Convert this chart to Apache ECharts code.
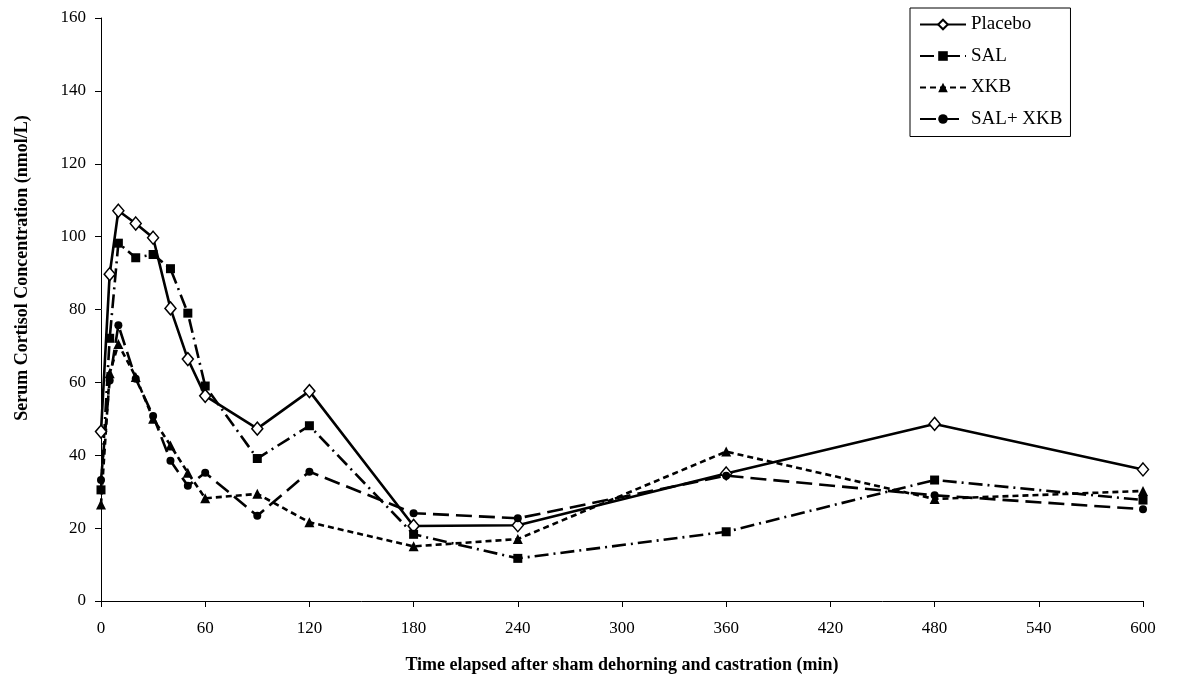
<!DOCTYPE html>
<html>
<head>
<meta charset="utf-8">
<script src="https://cdn.jsdelivr.net/npm/echarts@6/dist/echarts.min.js"></script>
<style>
html,body{margin:0;padding:0;background:#fff;}
#chart{width:1180px;height:688px;}
</style>
</head>
<body>
<div id="chart"></div>
<script>
// Time points (min)
const times = [0, 5, 10, 20, 30, 40, 50, 60, 90, 120, 180, 240, 360, 480, 600];
// Series values (nmol/L)
const placebo = [46.5, 89.7, 107.1, 103.6, 99.7, 80.3, 66.4, 56.3, 47.3, 57.6, 20.6, 20.8, 35.0, 48.6, 36.1];
const sal     = [30.5, 72.1, 98.2, 94.2, 95.1, 91.2, 79.0, 59.0, 39.1, 48.1, 18.3, 11.7, 19.0, 33.2, 27.7];
const xkb     = [26.5, 62.5, 70.5, 61.5, 50.0, 42.7, 35.2, 28.2, 29.4, 21.6, 15.0, 17.0, 41.0, 28.0, 30.2];
const salxkb  = [33.2, 60.5, 75.7, 61.0, 50.8, 38.5, 31.6, 35.2, 23.4, 35.5, 24.1, 22.7, 34.4, 29.0, 25.2];
const seriesNames = ['Placebo', 'SAL', 'XKB', 'SAL+ XKB'];
const xTicks = [0, 60, 120, 180, 240, 300, 360, 420, 480, 540, 600];
const yTicks = [0, 20, 40, 60, 80, 100, 120, 140, 160];
const xTitle = 'Time elapsed after sham dehorning and castration (min)';
const yTitle = 'Serum Cortisol Concentration (nmol/L)';

const FONT = '"Liberation Serif", "Times New Roman", serif';
const pair = arr => times.map((t, i) => [t, arr[i]]);

const chart = echarts.init(document.getElementById('chart'), null, {renderer: 'canvas'});
const baseSeries = (name, data, symbol, size, dash, fill) => ({
  name, type: 'line', data: pair(data), symbol, symbolSize: size,
  showSymbol: true, animation: false,
  lineStyle: {color: '#000', width: 2.6, type: dash},
  itemStyle: {color: fill, borderColor: '#000', borderWidth: fill === '#fff' ? 1.5 : 0},
  emphasis: {disabled: true}
});

chart.setOption({
  backgroundColor: '#fff',
  animation: false,
  grid: {left: 101, right: 37, top: 18, bottom: 87, containLabel: false},
  xAxis: {
    type: 'value', min: xTicks[0], max: xTicks[xTicks.length - 1], interval: 60,
    axisLine: {show: true, lineStyle: {color: '#000', width: 1}},
    axisTick: {show: true, inside: false, length: 6, lineStyle: {color: '#000'}},
    axisLabel: {fontFamily: FONT, fontSize: 17, color: '#000', margin: 19},
    splitLine: {show: false},
    name: xTitle, nameLocation: 'middle', nameGap: 55,
    nameTextStyle: {fontFamily: FONT, fontSize: 18, fontWeight: 'bold', color: '#000'}
  },
  yAxis: {
    type: 'value', min: yTicks[0], max: yTicks[yTicks.length - 1], interval: 20,
    axisLine: {show: true, lineStyle: {color: '#000', width: 1}},
    axisTick: {show: true, inside: false, length: 6, lineStyle: {color: '#000'}},
    axisLabel: {fontFamily: FONT, fontSize: 17, color: '#000', margin: 15},
    splitLine: {show: false}
  },
  graphic: [{
    type: 'text', x: 22, y: 268, rotation: Math.PI / 2,
    style: {text: yTitle, font: 'bold 18px ' + FONT, fill: '#000',
      align: 'center', verticalAlign: 'middle', textAlign: 'center', textVerticalAlign: 'middle'}
  }],
  legend: {
    show: true, orient: 'vertical', left: 910, top: 8,
    data: seriesNames,
    borderColor: '#000', borderWidth: 1, padding: [7, 8, 8, 9],
    itemWidth: 46, itemHeight: 12, itemGap: 12.5,
    textStyle: {fontFamily: FONT, fontSize: 19, color: '#000', lineHeight: 19},
    selectedMode: false
  },
  series: [
    baseSeries(seriesNames[0], placebo, 'diamond', [11, 13], 'solid', '#fff'),
    baseSeries(seriesNames[1], sal, 'rect', 9, [14, 5, 2, 5], '#000'),
    baseSeries(seriesNames[2], xkb, 'triangle', 10, [6, 4], '#000'),
    baseSeries(seriesNames[3], salxkb, 'circle', 8, [16, 7], '#000')
  ]
});
</script>
</body>
</html>
